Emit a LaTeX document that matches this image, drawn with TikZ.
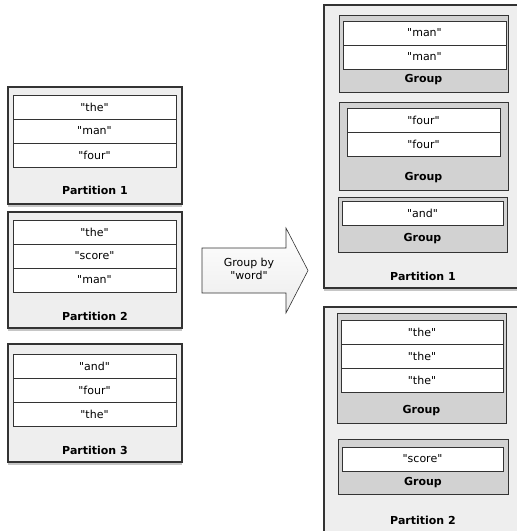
\documentclass[tikz,border=0pt]{standalone}
\usepackage{fontspec}
\setmainfont{DejaVu Sans}[Ligatures=TeXOff]
\usetikzlibrary{shadows}
\definecolor{partfill}{HTML}{EEEEEE}
\definecolor{groupfill}{HTML}{D2D2D2}
\definecolor{edge}{HTML}{333333}
\newcommand{\qw}[1]{"#1"}
\begin{document}
\begin{tikzpicture}[x=1pt, y=-1pt,
	every node/.style={inner sep=0pt, font=\fontsize{11}{13}\selectfont},
	part/.style={draw=edge, line width=1.2pt, fill=partfill, drop shadow={shadow xshift=0pt, shadow yshift=-3pt, opacity=0.45}},
	grp/.style={draw=edge, line width=1pt, fill=groupfill},
	row/.style={draw=edge, line width=0.9pt, fill=white, minimum height=24pt},
	lbl/.style={font=\fontsize{11}{13}\selectfont\bfseries}]
			\useasboundingbox (0,0) rectangle (517,531);
			
			% input partitions
			\node[part, minimum width=174pt, minimum height=117pt] (in1) at (95,145.5) {};
			\node[part, minimum width=174pt, minimum height=116pt] (in2) at (95,270) {};
			\node[part, minimum width=174pt, minimum height=118pt] (in3) at (95,403) {};
			
			\foreach \name/\y/\word in {a1/107/the, a2/131/man, a3/155/four, b1/232.5/the, b2/256/score, b3/280/man, c1/366/and, c2/390/four, c3/414/the}
			\node[row, minimum width=163pt] (\name) at (94.5,\y) {\qw{\word}};
			
			\node[lbl] (in1lbl) at (95,190) {Partition 1};
			\node[lbl] (in2lbl) at (95,316) {Partition 2};
			\node[lbl] (in3lbl) at (95,450) {Partition 3};
			
			% arrow
			\draw[draw=edge, line width=0.6pt, top color=white, bottom color=gray!15] (202,248) -- (286,248) -- (286,228) -- (308,270.5) -- (286,313) -- (286,293) -- (202,293) -- cycle;
			\node[align=center] (groupby) at (249,269) {Group by\\\qw{word}};
			
			% output partitions
			\node[part, minimum width=196pt, minimum height=283pt] (out1) at (422,146.5) {};
			\node[part, minimum width=196pt, minimum height=233pt] (out2) at (422,423.5) {};
			
			\node[grp, minimum width=169pt, minimum height=77pt] (g1) at (423.5,53.5) {};
			\node[grp, minimum width=169pt, minimum height=88pt] (g2) at (423.5,146) {};
			\node[grp, minimum width=169pt, minimum height=55pt] (g3) at (422.5,224.5) {};
			\node[grp, minimum width=169pt, minimum height=110pt] (g4) at (421.5,368) {};
			\node[grp, minimum width=170pt, minimum height=55pt] (g5) at (423,466.5) {};
			
			\foreach \name/\x/\y/\w/\word in {m1/424.5/33/163/man, m2/424.5/57/163/man, f1/423.5/120/153/four, f2/423.5/144/153/four, n1/422.5/213/161/and, t1/422/332/162/the, t2/422/356/162/the, t3/422/380/162/the, s1/422.5/459/161/score}
			\node[row, minimum width=\w pt] (\name) at (\x,\y) {\qw{\word}};
			
			\foreach \name/\x/\y in {g1lbl/423.5/80, g2lbl/423.5/178, g3lbl/422.5/239, g4lbl/421.5/411, g5lbl/423/483}
			\node[lbl] (\name) at (\x,\y) {Group};
			
			\node[lbl] (out1lbl) at (423,276) {Partition 1};
			\node[lbl] (out2lbl) at (423,520) {Partition 2};
\end{tikzpicture}
\end{document}
